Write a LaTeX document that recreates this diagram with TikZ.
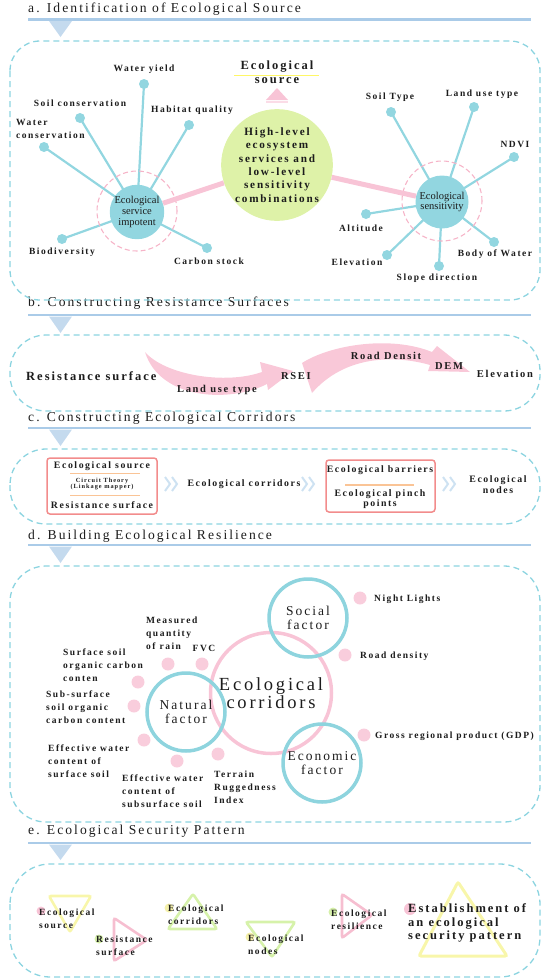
\documentclass[tikz,border=0pt]{standalone}
\usepackage{fontspec}
\setmainfont{Liberation Serif}
\newfontfamily\lsf[LetterSpace=16]{Liberation Serif}
\newfontfamily\tsf[LetterSpace=15]{Liberation Serif}
\pgfdeclarelayer{bg}
\pgfsetlayers{bg,main}
\definecolor{hline}{RGB}{170,203,232}
\definecolor{htri}{RGB}{196,218,238}
\definecolor{dashc}{RGB}{140,212,224}
\definecolor{leafc}{RGB}{146,214,224}
\definecolor{pinkc}{RGB}{248,196,214}
\definecolor{pinkd}{RGB}{246,180,200}
\definecolor{greenc}{RGB}{222,242,168}
\definecolor{salmon}{RGB}{242,140,140}
\definecolor{orangec}{RGB}{250,196,150}
\definecolor{chev}{RGB}{206,226,242}
\definecolor{arrowp}{RGB}{249,200,216}
\definecolor{ringb}{RGB}{142,212,222}
\definecolor{dotp}{RGB}{249,205,220}
\definecolor{trigreen}{RGB}{214,242,170}
\definecolor{triyel}{RGB}{248,246,170}
\definecolor{tripink}{RGB}{246,190,208}
\definecolor{dotgreen}{RGB}{214,240,170}
\definecolor{dotyel}{RGB}{244,240,170}
\definecolor{textc}{RGB}{28,28,28}
\begin{document}
\begin{tikzpicture}[x=1pt,y=-1pt,
  title/.style={anchor=west,inner sep=0,text=textc,font=\tsf\fontsize{13.6}{15}\selectfont},
  hl/.style={hline,line width=2.2},
  htr/.style={fill=htri},
  dbox/.style={dashc,line width=1.3,dash pattern=on 6pt off 4pt},
  lbl/.style={inner sep=0,text=textc,align=center,font=\lsf\bfseries\fontsize{9.5}{13}\selectfont},
  lbll/.style={lbl,align=left,anchor=west},
  dotb/.style={circle,fill=leafc,minimum size=10,inner sep=0},
  dotpk/.style={circle,fill=dotp,minimum size=13,inner sep=0},
  leaf/.style={leafc,line width=2.2},
  bc/.style={circle,fill=leafc,minimum size=53,inner sep=0,align=center,text=textc,font=\fontsize{10.5}{10.8}\selectfont},
  dring/.style={circle,draw=pinkd,dash pattern=on 5pt off 3pt,line width=1.1,minimum size=80,inner sep=0},
  thick pink/.style={pinkc,line width=5},
  sbox/.style={salmon,line width=1.5,rounded corners=3},
  oline/.style={orangec,line width=1.3},
  chv/.style={chev,line width=2},
  ring/.style={circle,draw=ringb,line width=3.5,minimum size=78,inner sep=0,align=center,text=textc,font=\tsf\fontsize{13.5}{13.5}\selectfont},
  tri/.style={line width=2.6,rounded corners=2},
  edot/.style={circle,minimum size=9,inner sep=0}
]
\useasboundingbox (0,0) rectangle (550,980);

% ---------- headers ----------
\node[title] (ta) at (28,9.5) {a. Identification of Ecological Source};
\draw[hl] (28,19.5) -- (531,19.5);
\fill[htr] (49,21) -- (72,21) -- (60.5,37) -- cycle;

\node[title] (tb) at (28,303) {b. Constructing Resistance Surfaces};
\draw[hl] (28,315) -- (531,315);
\fill[htr] (49,316.5) -- (72,316.5) -- (60.5,333) -- cycle;

\node[title] (tc) at (28,418.5) {c. Constructing Ecological Corridors};
\draw[hl] (28,428) -- (531,428);
\fill[htr] (49,429.5) -- (72,429.5) -- (60.5,446) -- cycle;

\node[title] (td) at (28,536) {d. Building Ecological Resilience};
\draw[hl] (28,545) -- (531,545);
\fill[htr] (49,546.5) -- (72,546.5) -- (60.5,563) -- cycle;

\node[title] (te) at (28,831) {e. Ecological Security Pattern};
\draw[hl] (28,843) -- (531,843);
\fill[htr] (49,844.5) -- (72,844.5) -- (60.5,860) -- cycle;

% ---------- dashed boxes ----------
\draw[dbox,rounded corners=30] (10,41) rectangle (540,300);
\draw[dbox,rounded corners=36] (10,335) rectangle (540,411);
\draw[dbox,rounded corners=36] (10,449) rectangle (540,524);
\draw[dbox,rounded corners=36] (10,566) rectangle (540,822);
\draw[dbox,rounded corners=40] (10,864) rectangle (540,977);

% ---------- section a ----------
\node[circle,fill=greenc,minimum size=108,inner sep=0,align=center,text=textc,
  font=\lsf\bfseries\fontsize{11.2}{13.3}\selectfont] (hlv) at (277,165)
  {High-level\\ecosystem\\services and\\low-level\\sensitivity\\combinations};
\node[lbl,font=\lsf\bfseries\fontsize{12.5}{13}\selectfont] (srcA) at (277,67) {Ecological};
\node[lbl,font=\lsf\bfseries\fontsize{12.5}{13}\selectfont] (srcB) at (277,81) {source};
\draw[yellow!60!white,line width=1] (234,75) -- (319,75);
\fill[pinkc] (266,100) -- (288,100) -- (277,88) -- cycle;
\draw[pinkc!60!white,line width=1.5] (266,102) -- (288,102);

\node[dring] (esiR) at (137,211) {};
\node[dring] (esR) at (442,201) {};
\node[bc] (esi) at (137,212) {Ecological\\service\\impotent};
\node[bc] (es) at (442,202) {Ecological\\sensitivity};

\node[dotb] (wy) at (144,84) {};
\node[dotb] (sc) at (80,118) {};
\node[dotb] (wc) at (44,147) {};
\node[dotb] (hq) at (189,125) {};
\node[dotb] (bd) at (62,239) {};
\node[dotb] (cs) at (207,248) {};
\node[dotb] (st) at (391,112) {};
\node[dotb] (lu) at (474,107) {};
\node[dotb] (nd) at (514,157) {};
\node[dotb] (al) at (366,214) {};
\node[dotb] (el) at (387,255) {};
\node[dotb] (sd) at (439,266) {};
\node[dotb] (bw) at (494,242) {};

\node[lbl] (wyL) at (144,69) {Water yield};
\node[lbl] (scL) at (80,103) {Soil conservation};
\node[lbll] (wcL) at (16,128.5) {Water\\conservation};
\node[lbl] (hqL) at (192,110) {Habitat quality};
\node[lbl] (bdL) at (62,252) {Biodiversity};
\node[lbl] (csL) at (209,261) {Carbon stock};
\node[lbl] (stL) at (390,97) {Soil Type};
\node[lbl] (luL) at (482,94) {Land use type};
\node[lbl] (ndL) at (515,144) {NDVI};
\node[lbl] (alL) at (361,228) {Altitude};
\node[lbl] (elL) at (357,262) {Elevation};
\node[lbl] (sdL) at (437,278) {Slope direction};
\node[lbl] (bwL) at (495,254) {Body of Water};

\begin{pgfonlayer}{bg}
  \foreach \d in {wy,sc,wc,hq,bd,cs} \draw[leaf] (esi.center) -- (\d.center);
  \foreach \d in {st,lu,nd,al,el,sd,bw} \draw[leaf] (es.center) -- (\d.center);
\end{pgfonlayer}
\draw[thick pink] (esi) -- (hlv);
\draw[thick pink] (hlv) -- (es);

% ---------- section b ----------
\fill[arrowp] (145,352) .. controls (165,375) and (225,385) .. (262,372)
  -- (260,362) -- (293,371) -- (268,390) -- (267,384)
  .. controls (230,403) and (160,400) .. (145,352) -- cycle;
\fill[arrowp] (302,363) .. controls (330,345) and (390,335) .. (432,352)
  -- (437,346) -- (470,372) -- (428,371) -- (430,365)
  .. controls (395,355) and (345,355) .. (312,393) -- cycle;
\node[lbll,font=\lsf\bfseries\fontsize{12.5}{14}\selectfont] (rs) at (26,376.5) {Resistance surface};
\node[lbl,font=\lsf\bfseries\fontsize{10.5}{12}\selectfont] (lut) at (217,390) {Land use type};
\node[lbl,font=\lsf\bfseries\fontsize{10.5}{12}\selectfont] (rsei) at (296,376) {RSEI};
\node[lbl,font=\lsf\bfseries\fontsize{10.5}{12}\selectfont] (rd) at (386,356) {Road Densit};
\node[lbl,font=\lsf\bfseries\fontsize{10.5}{12}\selectfont] (dem) at (449,366) {DEM};
\node[lbl,font=\lsf\bfseries\fontsize{10.5}{12}\selectfont] (elv) at (505,374) {Elevation};

% ---------- section c ----------
\draw[sbox] (47,458) rectangle (157,514);
\node[lbl,font=\lsf\bfseries\fontsize{9.8}{11}\selectfont] (cs1) at (102,466) {Ecological source};
\draw[oline] (70,473.5) -- (140,473.5);
\node[lbl,font=\lsf\bfseries\fontsize{6.3}{6.8}\selectfont] (ct) at (102,484) {Circuit Theory\\(Linkage mapper)};
\draw[oline] (70,495.5) -- (140,495.5);
\node[lbl,font=\lsf\bfseries\fontsize{9.8}{11}\selectfont] (cs2) at (102,505) {Resistance surface};

\foreach \cx in {173,310,451} {
  \draw[chv] (\cx-8,477) -- (\cx-3,484) -- (\cx-8,491);
  \draw[chv] (\cx-1,477) -- (\cx+4,484) -- (\cx-1,491);
}
\node[lbl,font=\lsf\bfseries\fontsize{9.8}{11}\selectfont] (ecr) at (244,484) {Ecological corridors};
\draw[sbox] (326,460) rectangle (435,512);
\node[lbl,font=\lsf\bfseries\fontsize{9.8}{11}\selectfont] (eb) at (380,470) {Ecological barriers};
\draw[oline] (345,485) -- (414,485);
\node[lbl,font=\lsf\bfseries\fontsize{9.8}{10.5}\selectfont] (ep) at (380,499) {Ecological pinch\\points};
\node[lbl,font=\lsf\bfseries\fontsize{9.8}{11}\selectfont] (en) at (498,485) {Ecological\\nodes};

% ---------- section d ----------
\node[circle,draw=pinkc,line width=3.5,minimum size=121,inner sep=0,align=center,text=textc,
  font=\tsf\fontsize{18.5}{18.5}\selectfont] (ecc) at (271,693) {Ecological\\corridors};
\node[ring] (soc) at (308,618) {Social\\factor};
\node[ring] (nat) at (186,712) {Natural\\factor};
\node[ring] (eco) at (322,763) {Economic\\factor};

\node[dotpk] (p1) at (360,598) {};
\node[dotpk] (p2) at (345,655) {};
\node[dotpk] (p3) at (364,735) {};
\node[dotpk] (p4) at (168,664) {};
\node[dotpk] (p5) at (202,664) {};
\node[dotpk] (p6) at (138,682) {};
\node[dotpk] (p7) at (134,706) {};
\node[dotpk] (p8) at (144,740) {};
\node[dotpk] (p9) at (177,761) {};
\node[dotpk] (p10) at (218,754) {};

\node[lbll] (l1) at (374,599) {Night Lights};
\node[lbll] (l2) at (360,656) {Road density};
\node[lbll] (l3) at (375,736) {Gross regional product (GDP)};
\node[lbll] (l4) at (146,633) {Measured\\quantity\\of rain};
\node[lbl] (l5) at (204,648) {FVC};
\node[lbll] (l6) at (63,665) {Surface soil\\organic carbon\\conten};
\node[lbll] (l7) at (46,707) {Sub-surface\\soil organic\\carbon content};
\node[lbll] (l8) at (48,761.5) {Effective water\\content of\\surface soil};
\node[lbll] (l9) at (122,791) {Effective water\\content of\\subsurface soil};
\node[lbll] (l10) at (214,787) {Terrain\\Ruggedness\\Index};

% ---------- section e ----------
\draw[tri,triyel] (49,896) -- (91,896) -- (70,932) -- cycle;
\draw[tri,tripink] (114,918) -- (147,940) -- (114,961) -- cycle;
\draw[tri,trigreen] (193,894) -- (217,929) -- (168,929) -- cycle;
\draw[tri,trigreen] (246,922) -- (295,922) -- (272,957) -- cycle;
\draw[tri,tripink] (342,894) -- (372,915) -- (342,938) -- cycle;
\draw[tri,triyel,line width=3] (458,882) -- (507,956) -- (419,956) -- cycle;

\node[edot,fill=pinkc] (d1) at (41,911) {};
\node[edot,fill=dotgreen] (d2) at (99,939) {};
\node[edot,fill=dotyel] (d3) at (169,908) {};
\node[edot,fill=dotyel] (d4) at (250,937) {};
\node[edot,fill=dotgreen] (d5) at (333,912) {};
\node[edot,fill=pinkc,minimum size=12] (d6) at (410,909) {};

\node[lbll] (e1) at (39,918.5) {Ecological\\source};
\node[lbll] (e2) at (96,945.5) {Resistance\\surface};
\node[lbll] (e3) at (168,915) {Ecological\\corridors};
\node[lbll] (e4) at (248,944.5) {Ecological\\nodes};
\node[lbll] (e5) at (331,919.5) {Ecological\\resilience};
\node[lbll,font=\lsf\bfseries\fontsize{12.5}{13.5}\selectfont] (e6) at (408,923) {Establishment of\\an ecological\\security pattern};
\end{tikzpicture}
\end{document}
